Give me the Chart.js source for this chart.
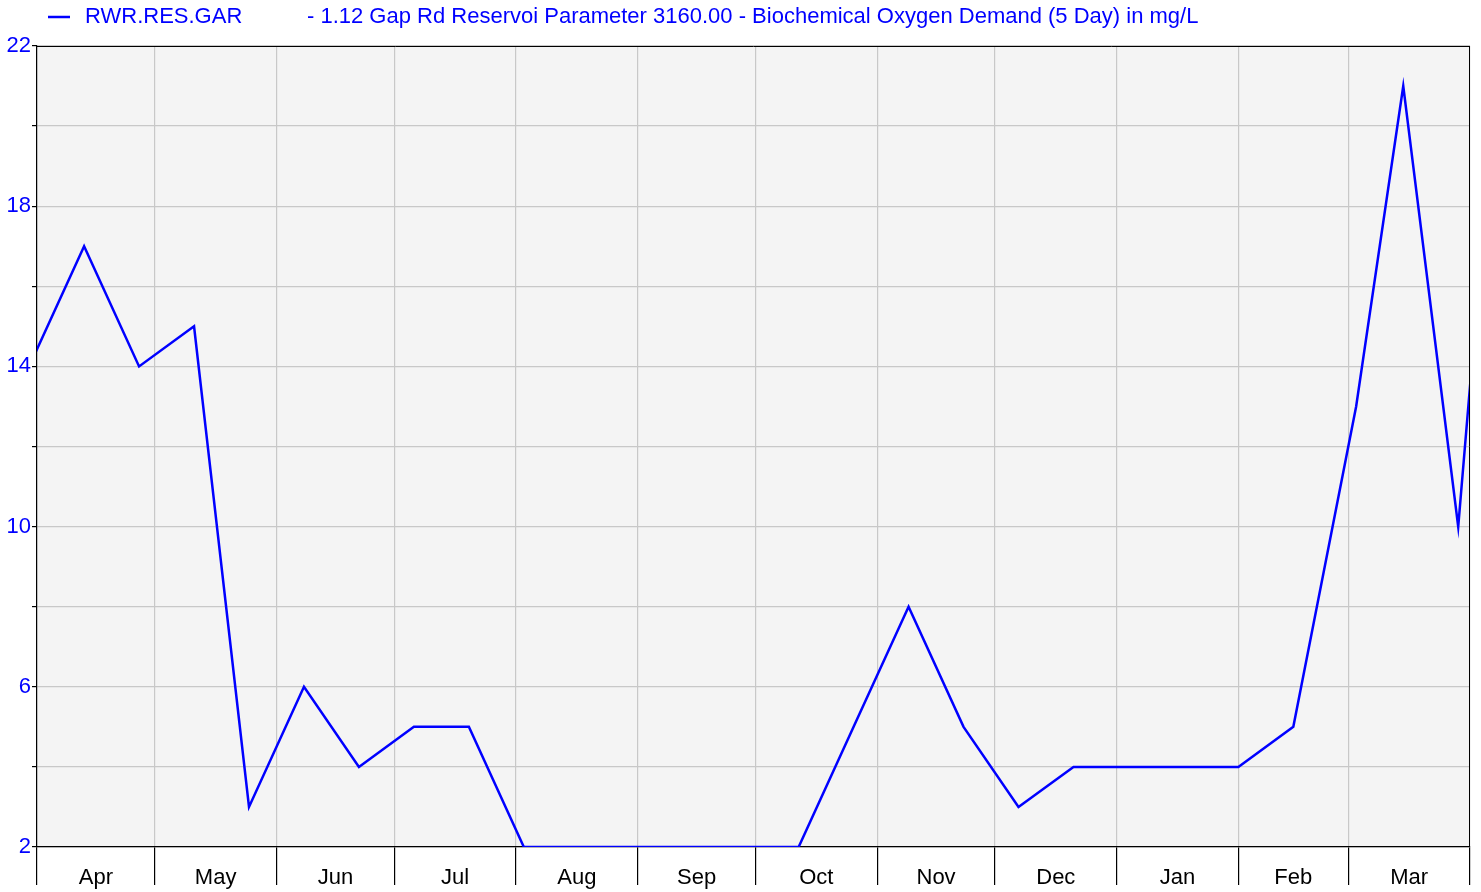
<!DOCTYPE html>
<html><head><meta charset="utf-8">
<script src="https://cdn.jsdelivr.net/npm/chart.js@4/dist/chart.umd.min.js"></script>
<style>html,body{margin:0;padding:0;background:#fff}#wrap{width:1481px;height:892px}</style>
</head><body><div id="wrap"><canvas id="c"></canvas></div>
<script>
const seriesName = 'RWR.RES.GAR';
const seriesDesc = '- 1.12 Gap Rd Reservoi Parameter 3160.00 - Biochemical Oxygen Demand (5 Day) in mg/L';
// sample dates as days since 1 April
const sampleDays = [-2, 12, 26, 40, 54, 68, 82, 96, 110, 124, 138, 152, 166, 180, 194, 208, 222, 236, 250, 264, 278, 292, 306, 320, 336, 348, 362, 368];
const bodValues  = [14, 17, 14, 15, 3, 6, 4, 5, 5, 2, 2, 2, 2, 2, 2, 5, 8, 5, 3, 4, 4, 4, 4, 5, 13, 21, 10, 17];
const monthNames  = ['Apr','May','Jun','Jul','Aug','Sep','Oct','Nov','Dec','Jan','Feb','Mar'];
const monthStarts = [0, 30, 61, 91, 122, 153, 183, 214, 244, 275, 306, 334, 365];
const yLabelled   = [2, 6, 10, 14, 18, 22];

const FONT = '"Liberation Sans", Arial, sans-serif';
const BLUE = '#0000ff';
const boundarySet = new Set(monthStarts);
const midLabels = new Map();
monthNames.forEach((m, i) => midLabels.set((monthStarts[i] + monthStarts[i + 1]) / 2, m));

const bgPlugin = {
  id: 'bg',
  beforeDraw(chart) {
    const {ctx, chartArea: a} = chart;
    ctx.save();
    ctx.fillStyle = '#f4f4f4';
    ctx.fillRect(a.left, a.top, a.right - a.left, a.bottom - a.top);
    ctx.restore();
  },
  afterDraw(chart) {
    const {ctx, chartArea: a} = chart;
    ctx.save();
    ctx.strokeStyle = '#000';
    ctx.lineWidth = 1;
    ctx.beginPath();
    ctx.moveTo(a.left, a.top + 0.5); ctx.lineTo(a.right, a.top + 0.5);
    ctx.moveTo(a.right - 0.5, a.top); ctx.lineTo(a.right - 0.5, a.bottom);
    ctx.stroke();
    // legend
    ctx.strokeStyle = BLUE;
    ctx.lineWidth = 2.5;
    ctx.beginPath(); ctx.moveTo(48, 17); ctx.lineTo(70, 17); ctx.stroke();
    ctx.fillStyle = BLUE;
    ctx.font = '22px ' + FONT;
    ctx.textBaseline = 'middle';
    ctx.textAlign = 'left';
    ctx.fillText(seriesName, 85, 17);
    ctx.fillText(seriesDesc, 307, 17);
    ctx.restore();
  }
};

new Chart(document.getElementById('c'), {
  type: 'line',
  data: {
    datasets: [{
      label: seriesName,
      data: sampleDays.map((d, i) => ({x: d, y: bodValues[i]})),
      borderColor: BLUE,
      borderWidth: 2.5,
      pointRadius: 0,
      tension: 0,
      fill: false
    }]
  },
  options: {
    responsive: true,
    maintainAspectRatio: false,
    animation: false,
    layout: {padding: {top: 46, right: 11, left: 0, bottom: 0}},
    plugins: {legend: {display: false}, tooltip: {enabled: false}},
    scales: {
      x: {
        type: 'linear',
        min: 0, max: 365,
        afterBuildTicks(scale) {
          const vals = [...monthStarts, ...midLabels.keys()].sort((a, b) => a - b);
          scale.ticks = vals.map(v => ({value: v}));
        },
        afterFit(scale) { scale.height = 45; },
        grid: {
          color: c => (c.tick && boundarySet.has(c.tick.value)) ? '#c8c8c8' : 'rgba(0,0,0,0)',
          tickColor: c => (c.tick && boundarySet.has(c.tick.value)) ? '#000000' : 'rgba(0,0,0,0)',
          tickLength: 38,
          lineWidth: 1.2
        },
        border: {color: '#000', width: 1.2},
        ticks: {
          autoSkip: false, maxRotation: 0, minRotation: 0,
          padding: -20,
          color: '#000',
          font: {family: FONT, size: 22},
          callback: v => midLabels.get(v) || ''
        }
      },
      y: {
        min: 2, max: 22,
        afterBuildTicks(scale) {
          const t = [];
          for (let v = 2; v <= 22; v += 2) t.push({value: v});
          scale.ticks = t;
        },
        afterFit(scale) { scale.width = 37; },
        grid: {color: '#c8c8c8', tickColor: '#000', tickLength: 5, lineWidth: 1.2},
        border: {color: '#000', width: 1.2},
        ticks: {
          padding: 1,
          color: BLUE,
          font: {family: FONT, size: 22},
          callback: v => yLabelled.includes(v) ? String(v) : ''
        }
      }
    }
  },
  plugins: [bgPlugin]
});
</script></body></html>
